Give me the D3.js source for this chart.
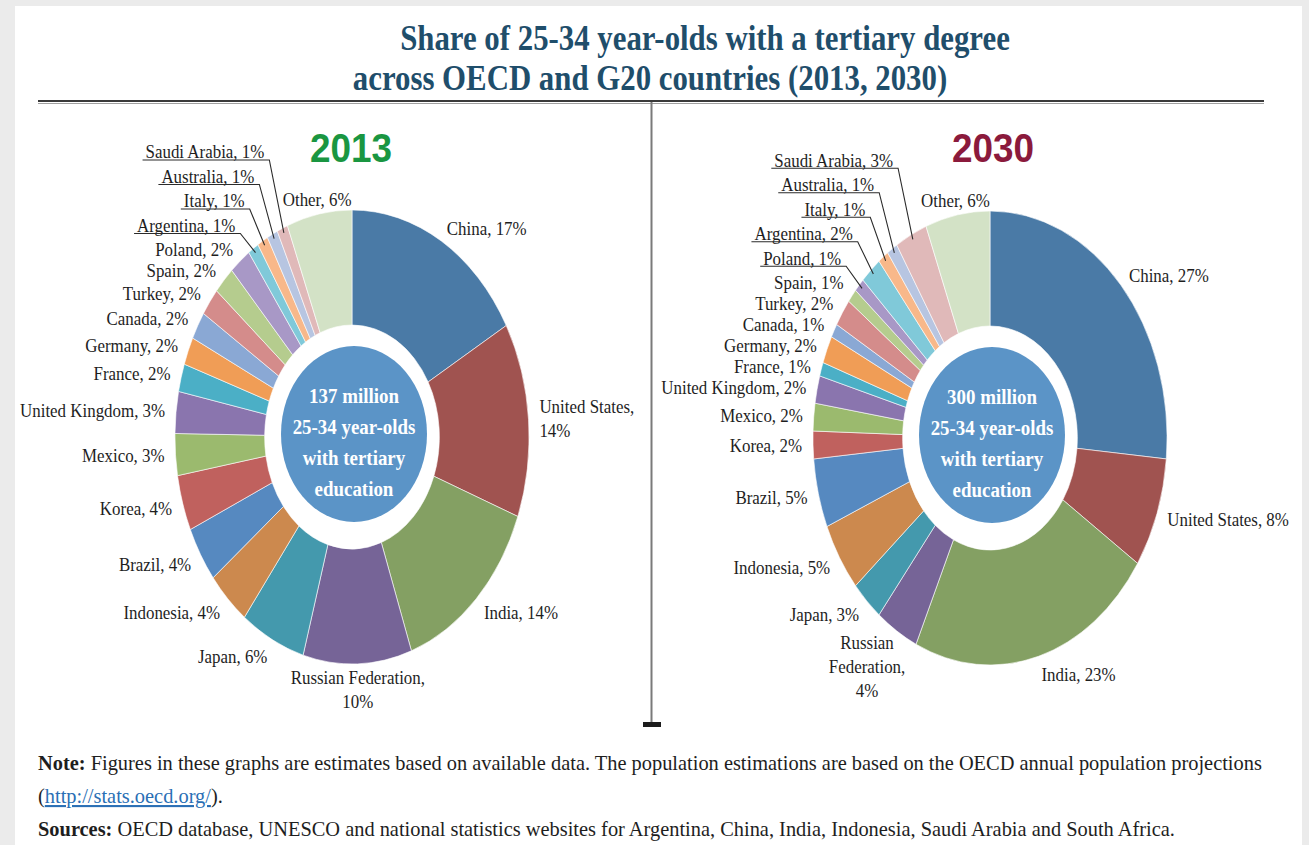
<!DOCTYPE html>
<html>
<head>
<meta charset="utf-8">
<script src="https://cdn.jsdelivr.net/npm/d3@7"></script>
<style>
  body { margin: 0; background: #ebebeb; }
  svg { display: block; }
</style>
</head>
<body>
<svg id="chart" width="1309" height="845"></svg>
<script>
// ---- data -------------------------------------------------------------
const countries = ["China", "United States", "India", "Russian Federation", "Japan",
  "Indonesia", "Brazil", "Korea", "Mexico", "United Kingdom", "France", "Germany",
  "Canada", "Turkey", "Spain", "Poland", "Argentina", "Italy", "Australia",
  "Saudi Arabia", "Other"];
const share2013 = [17, 14, 14, 10, 6, 4, 4, 4, 3, 3, 2, 2, 2, 2, 2, 2, 1, 1, 1, 1, 6];
const share2030 = [27, 8, 23, 4, 3, 5, 5, 2, 2, 2, 1, 2, 1, 2, 1, 1, 2, 1, 1, 3, 6];
const years = ["2013", "2030"];
const totals = ["137 million", "300 million"];
const centerCaption = ["25-34 year-olds", "with tertiary", "education"];
const titleLines = ["Share of 25-34 year-olds with a tertiary degree",
                    "across OECD and G20 countries (2013, 2030)"];

// ---- styling ----------------------------------------------------------
const sliceColors = ["#4a7aa6", "#a05350", "#84a063", "#766497", "#4499ad", "#cc894e",
  "#5689c0", "#c0615e", "#9bba6e", "#8a75ae", "#4bafc6", "#f09d56",
  "#8aa8d4", "#d48c8b", "#b5cc8e", "#a898c6", "#80c9d9", "#f8b88a",
  "#b7c5e1", "#e0b9b9", "#d3e2c6"];
const yearColors = ["#1a9641", "#8b1a3c"];
const SERIF = "'Liberation Serif', 'Times New Roman', serif";
const SANS = "'Liberation Sans', Arial, sans-serif";
const LABEL_SIZE = 18, LABEL_SX = 0.94, LINE_H = 24, MIN_SEP = 21;

const svg = d3.select("#chart");
svg.append("rect").attr("x", 15).attr("y", 6).attr("width", 1287).attr("height", 845)
  .attr("fill", "#fff");

// text squeezed horizontally to mimic a condensed face
function stext(parent, x, y, str, o = {}) {
  const g = parent.append("g")
    .attr("transform", `translate(${x},${y}) scale(${o.sx ?? LABEL_SX},1)`);
  return g.append("text")
    .attr("text-anchor", o.anchor || "start")
    .attr("dy", o.dy ?? "0.35em")
    .attr("font-family", o.family || SERIF)
    .attr("font-size", o.size || LABEL_SIZE)
    .attr("font-weight", o.weight || "normal")
    .attr("fill", o.fill || "#1e1e1e")
    .text(str);
}

// ---- title and frame --------------------------------------------------
const titleG = svg.append("g").attr("font-family", SERIF).attr("font-weight", "bold")
  .attr("font-size", 36).attr("fill", "#1f4e6b").attr("text-anchor", "middle");
const tl1 = titleG.append("text").text(titleLines[0]);
const titleScale = 610 / tl1.node().getComputedTextLength();
tl1.attr("transform", `translate(705,50) scale(${titleScale},1)`);
titleG.append("text").attr("transform", `translate(650,90) scale(${titleScale},1)`)
  .text(titleLines[1]);

svg.append("line").attr("x1", 38).attr("x2", 1264).attr("y1", 101).attr("y2", 101)
  .attr("stroke", "#3a3a3a").attr("stroke-width", 2);
svg.append("line").attr("x1", 38).attr("x2", 1264).attr("y1", 103.5).attr("y2", 103.5)
  .attr("stroke", "#a0a0a0").attr("stroke-width", 1);
svg.append("line").attr("x1", 651.5).attr("x2", 651.5).attr("y1", 102).attr("y2", 724)
  .attr("stroke", "#7a7a7a").attr("stroke-width", 2);
svg.append("rect").attr("x", 643).attr("y", 722).attr("width", 18).attr("height", 5)
  .attr("fill", "#1c1c1c");

// ---- donuts -------------------------------------------------------------
const RO = 227, RI = 112, SQ = 0.78, GAP = 14;
const panels = [
  { cx: 352, cy: 437, values: share2013,
    wrap: { "United States": "comma", "Russian Federation": "comma" },
    leaders: ["Argentina", "Italy", "Australia", "Saudi Arabia"], nudge: {} },
  { cx: 990, cy: 438, values: share2030,
    wrap: { "Russian Federation": "words" },
    leaders: ["Poland", "Argentina", "Italy", "Australia", "Saudi Arabia"],
    nudge: { "Russian Federation": { dx: -24, anchor: "middle" } } }
];

function labelLines(name, v, mode) {
  if (mode === "comma") return [name + ",", v + "%"];
  if (mode === "words") {
    const w = name.split(" ");
    w[w.length - 1] += ",";
    return [...w, v + "%"];
  }
  return [name + ", " + v + "%"];
}

panels.forEach((p, pi) => {
  const data = countries.map((c, i) => ({ name: c, v: p.values[i], color: sliceColors[i] }));
  const arcs = d3.pie().sort(null).value(d => d.v)(data);
  const arc = d3.arc().innerRadius(RI).outerRadius(RO);

  const g = svg.append("g").attr("transform", `translate(${p.cx},${p.cy}) scale(${SQ},1)`);
  g.selectAll("path").data(arcs).join("path")
    .attr("d", arc)
    .attr("fill", d => d.data.color)
    .attr("stroke", "#ffffff").attr("stroke-width", 0.6)
    .attr("vector-effect", "non-scaling-stroke");

  // centre badge
  svg.append("ellipse").attr("cx", p.cx + 2).attr("cy", p.cy - 3)
    .attr("rx", 73).attr("ry", 88).attr("fill", "#5b94c7");
  [totals[pi], ...centerCaption].forEach((s, k) => {
    stext(svg, p.cx + 2, p.cy - 42 + k * 31, s,
      { anchor: "middle", weight: "bold", size: 22, fill: "#ffffff", sx: 0.86 });
  });

  // year heading
  stext(svg, p.cx + (pi ? 3 : -1), 162, years[pi],
    { anchor: "middle", family: SANS, weight: "bold", size: 41, fill: yearColors[pi], sx: 0.9, dy: 0 });

  const pt = (a, r) => [p.cx + SQ * r * Math.sin(a), p.cy - r * Math.cos(a)];
  const lab = svg.append("g");

  // regular labels, just outside each slice
  const labels = [];
  arcs.forEach(a => {
    const name = a.data.name;
    if (p.leaders.includes(name)) return;
    const m = (a.startAngle + a.endAngle) / 2;
    const s = Math.sin(m), c = Math.cos(m);
    const [x, y] = pt(m, RO + GAP);
    const nd = p.nudge[name] || {};
    const anchor = nd.anchor || (Math.abs(s) < 0.2 ? "middle" : (s > 0 ? "start" : "end"));
    const lines = labelLines(name, a.data.v, p.wrap[name]);
    let y0;
    if (lines.length > 1 && c < -0.7) y0 = y;
    else y0 = y + 5 * Math.max(0, -c) - (lines.length - 1) * LINE_H / 2;
    labels.push({ name, x: x + (nd.dx || 0), y0, lines, anchor });
  });

  // keep neighbouring single-line labels on the left side apart
  const left = labels.filter(l => l.anchor === "end" && l.lines.length === 1)
    .sort((a, b) => a.y0 - b.y0);
  for (let it = 0; it < 60; it++) {
    for (let i = 0; i < left.length - 1; i++) {
      const d = left[i + 1].y0 - left[i].y0;
      if (d < MIN_SEP) {
        left[i].y0 -= (MIN_SEP - d) / 2;
        left[i + 1].y0 += (MIN_SEP - d) / 2;
      }
    }
  }
  const placed = {};
  labels.forEach(l => {
    l.lines.forEach((ln, k) => stext(lab, l.x, l.y0 + k * LINE_H, ln, { anchor: l.anchor }));
    placed[l.name] = l.y0;
  });

  // small slices: stacked, underlined labels with leader lines
  const first = arcs.findIndex(a => a.data.name === p.leaders[0]);
  const baseY = placed[arcs[first - 1].data.name];
  p.leaders.forEach((name, k) => {
    const a = arcs.find(d => d.data.name === name);
    const m = (a.startAngle + a.endAngle) / 2;
    const [ex, ey] = pt(m, RO - 5);
    const [ox] = pt(m, RO);
    const ly = baseY - (k + 1) * 24.5;
    const ux = ox - 13, uy = ly + 8;
    const t = stext(lab, ux - 5, ly, name + ", " + a.data.v + "%", { anchor: "end" });
    const w = t.node().getComputedTextLength() * LABEL_SX;
    lab.append("polyline")
      .attr("points", [[ux - 5 - w - 3, uy], [ux, uy], [ex, ey]].map(q => q.join(",")).join(" "))
      .attr("fill", "none").attr("stroke", "#2b2b2b").attr("stroke-width", 1.1);
  });
});

// ---- footnotes ----------------------------------------------------------
const foot = svg.append("g").attr("font-family", SERIF).attr("font-size", 21).attr("fill", "#1e1e1e");
const f1 = foot.append("text");
f1.append("tspan").attr("font-weight", "bold").text("Note:");
f1.append("tspan").text(" Figures in these graphs are estimates based on available data. The population estimations are based on the OECD annual population projections");
const footScale = 1225 / f1.node().getComputedTextLength();
f1.attr("transform", `translate(38,770) scale(${footScale},1)`);
const f2 = foot.append("text").attr("transform", `translate(38,803) scale(${footScale},1)`);
f2.append("tspan").text("(");
f2.append("tspan").attr("fill", "#2a6fb5").attr("text-decoration", "underline").text("http://stats.oecd.org/");
f2.append("tspan").text(").");
const f3 = foot.append("text").attr("transform", `translate(38,836) scale(${footScale},1)`);
f3.append("tspan").attr("font-weight", "bold").text("Sources:");
f3.append("tspan").text(" OECD database, UNESCO and national statistics websites for Argentina, China, India, Indonesia, Saudi Arabia and South Africa.");
</script>
</body>
</html>
